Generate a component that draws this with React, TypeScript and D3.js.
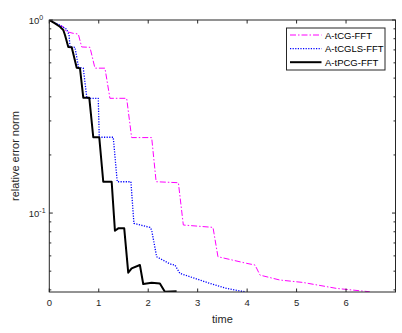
import React from "react";
import * as d3 from "d3";

// curves: [time, relative error norm]
const cgTimes = [0, 0.18, 0.28, 0.35, 0.485, 0.586, 0.655, 0.822, 0.923, 1.125, 1.226, 1.564, 1.665, 2.07, 2.16, 2.61, 2.71, 3.31, 3.41, 3.99, 4.16, 4.26, 4.66, 5.13, 5.81, 6.48];
const cgValues = [1, 0.94, 0.923, 0.87, 0.853, 0.846, 0.725, 0.722, 0.563, 0.563, 0.393, 0.393, 0.246, 0.246, 0.1453, 0.1436, 0.0867, 0.0843, 0.0594, 0.0549, 0.0538, 0.0477, 0.045, 0.0437, 0.0407, 0.0391];

const cglsTimes = [0, 0.216, 0.352, 0.4, 0.418, 0.519, 0.59, 0.687, 0.76, 0.99, 1.01, 1.293, 1.374, 1.65, 1.711, 2.034, 2.069, 2.17, 2.44, 2.54, 2.64, 3.044, 3.246, 3.584, 3.954];
const cglsValues = [1, 0.94, 0.895, 0.836, 0.725, 0.722, 0.57, 0.563, 0.393, 0.393, 0.247, 0.247, 0.1453, 0.1453, 0.0884, 0.0843, 0.0817, 0.0594, 0.0545, 0.0538, 0.0487, 0.045, 0.0432, 0.0407, 0.0391];

const pcgTimes = [0, 0.115, 0.216, 0.283, 0.317, 0.384, 0.453, 0.554, 0.62, 0.687, 0.808, 0.889, 1.01, 1.091, 1.261, 1.327, 1.394, 1.515, 1.596, 1.665, 1.832, 1.899, 2.069, 2.236, 2.337, 2.574];
const pcgValues = [1, 0.961, 0.923, 0.888, 0.836, 0.725, 0.722, 0.566, 0.563, 0.396, 0.396, 0.247, 0.247, 0.1453, 0.1453, 0.081, 0.0833, 0.0833, 0.0491, 0.0517, 0.0538, 0.0429, 0.0435, 0.0432, 0.0391, 0.0394];

const seriesNames = ["A-tCG-FFT", "A-tCGLS-FFT", "A-tPCG-FFT"];
const xTicks = [0, 1, 2, 3, 4, 5, 6, 7];
const xTickLabels = ["0", "1", "2", "3", "4", "5", "6", ""];
const yMajor = [1, 0.1];
const yMinor = [0.9, 0.8, 0.7, 0.6, 0.5, 0.4, 0.3, 0.2, 0.09, 0.08, 0.07, 0.06, 0.05, 0.04];

const W = 402;
const H = 333;
const left = 49.3;
const right = 395.5;
const top = 20;
const bottom = 292;
const axisColor = "#262626";
const font = "'Liberation Sans', Arial, sans-serif";

const styles = [
  { color: "#ff00ff", width: 1, dash: "6,2,1.5,2" },
  { color: "#0000ff", width: 1.3, dash: "1.2,1.4" },
  { color: "#000000", width: 2, dash: "" },
];

export default function App() {
  const x = d3.scaleLinear().domain([0, 7]).range([left, right]);
  const y = d3.scaleLog().domain([0.039, 1]).range([bottom, top]);
  const line = d3
    .line<[number, number]>()
    .x((d) => x(d[0]))
    .y((d) => y(d[1]));

  const series = [
    d3.zip(cgTimes, cgValues) as [number, number][],
    d3.zip(cglsTimes, cglsValues) as [number, number][],
    d3.zip(pcgTimes, pcgValues) as [number, number][],
  ];

  const legX = 286.5;
  const legY = 28;

  return (
    <svg
      width={W}
      height={H}
      style={{ position: "absolute", left: 0, top: 0, background: "#fff" }}
    >
      <defs>
        <clipPath id="plot">
          <rect x={left} y={top} width={right - left} height={bottom - top} />
        </clipPath>
      </defs>
      <rect x={0} y={0} width={W} height={H} fill="#fff" />

      <g clipPath="url(#plot)">
        {series.map((s, i) => (
          <path
            key={i}
            d={line(s) || ""}
            fill="none"
            stroke={styles[i].color}
            strokeWidth={styles[i].width}
            strokeDasharray={styles[i].dash}
            strokeLinejoin="round"
          />
        ))}
      </g>

      {/* axes box */}
      <rect
        x={left}
        y={top}
        width={right - left}
        height={bottom - top}
        fill="none"
        stroke={axisColor}
        strokeWidth={1}
      />

      {/* x ticks */}
      {xTicks.map((t) => (
        <g key={"x" + t}>
          <line x1={x(t)} x2={x(t)} y1={bottom} y2={bottom - 3.5} stroke={axisColor} />
          <line x1={x(t)} x2={x(t)} y1={top} y2={top + 3.5} stroke={axisColor} />
          <text
            x={x(t)}
            y={bottom + 14}
            textAnchor="middle"
            fontFamily={font}
            fontSize={9.5}
            fill={axisColor}
          >
            {xTickLabels[t]}
          </text>
        </g>
      ))}

      {/* y ticks */}
      {yMajor.map((v) => (
        <g key={"ym" + v}>
          <line x1={left} x2={left + 3.5} y1={y(v)} y2={y(v)} stroke={axisColor} />
          <line x1={right} x2={right - 3.5} y1={y(v)} y2={y(v)} stroke={axisColor} />
          <text
            x={left - 10}
            y={y(v) + 4}
            textAnchor="end"
            fontFamily={font}
            fontSize={9.5}
            fill={axisColor}
          >
            10
          </text>
          <text
            x={left - 10}
            y={y(v) - 0.5}
            textAnchor="start"
            fontFamily={font}
            fontSize={7}
            fill={axisColor}
          >
            {Math.round(Math.log10(v))}
          </text>
        </g>
      ))}
      {yMinor.map((v) => (
        <g key={"yn" + v}>
          <line x1={left} x2={left + 2} y1={y(v)} y2={y(v)} stroke={axisColor} />
          <line x1={right} x2={right - 2} y1={y(v)} y2={y(v)} stroke={axisColor} />
        </g>
      ))}

      {/* axis labels */}
      <text
        x={(left + right) / 2}
        y={323}
        textAnchor="middle"
        fontFamily={font}
        fontSize={11}
        fill={axisColor}
      >
        time
      </text>
      <text
        transform={`translate(19,${(top + bottom) / 2}) rotate(-90)`}
        textAnchor="middle"
        fontFamily={font}
        fontSize={11}
        fill={axisColor}
      >
        relative error norm
      </text>

      {/* legend */}
      <rect
        x={legX}
        y={legY}
        width={98.5}
        height={42}
        fill="#fff"
        stroke={axisColor}
        strokeWidth={1}
      />
      {seriesNames.map((name, i) => {
        const ly = legY + 7 + i * 13.6;
        return (
          <g key={name}>
            <line
              x1={legX + 3.5}
              x2={legX + 35}
              y1={ly}
              y2={ly}
              stroke={styles[i].color}
              strokeWidth={styles[i].width}
              strokeDasharray={styles[i].dash}
            />
            <text
              x={legX + 38.5}
              y={ly + 3.5}
              fontFamily={font}
              fontSize={9.5}
              fill="#000"
            >
              {name}
            </text>
          </g>
        );
      })}
    </svg>
  );
}
